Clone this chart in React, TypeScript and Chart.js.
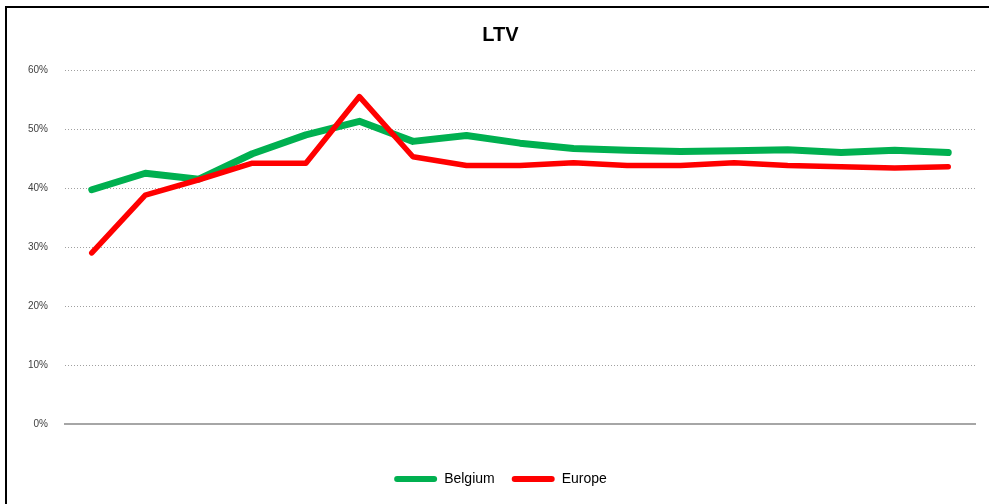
import { useEffect, useRef } from 'react';
import { Chart, registerables } from 'chart.js';

Chart.register(...registerables);

const categories = ['1', '2', '3', '4', '5', '6', '7', '8', '9', '10', '11', '12', '13', '14', '15', '16', '17'];
const belgium = [39.7, 42.5, 41.5, 45.8, 49.0, 51.3, 47.9, 48.9, 47.6, 46.7, 46.4, 46.2, 46.3, 46.5, 46.0, 46.4, 46.0];
const europe = [29.0, 38.8, 41.4, 44.2, 44.2, 55.5, 45.3, 43.8, 43.8, 44.3, 43.8, 43.8, 44.3, 43.8, 43.6, 43.4, 43.6];
const yMin = 0;
const yMax = 60;
const yStep = 10;

export default function App() {
  const ref = useRef<HTMLCanvasElement>(null);

  useEffect(() => {
    if (!ref.current) return;
    const chart = new Chart(ref.current, {
      type: 'line',
      data: {
        labels: categories,
        datasets: [
          {
            label: 'Belgium',
            data: belgium,
            borderColor: '#00b050',
            backgroundColor: '#00b050',
            borderWidth: 7,
            pointRadius: 0,
            tension: 0,
            borderCapStyle: 'round',
            borderJoinStyle: 'round',
            order: 1,
          },
          {
            label: 'Europe',
            data: europe,
            borderColor: '#ff0000',
            backgroundColor: '#ff0000',
            borderWidth: 5.5,
            pointRadius: 0,
            tension: 0,
            borderCapStyle: 'round',
            borderJoinStyle: 'round',
            order: 0,
          },
        ],
      },
      options: {
        animation: false,
        responsive: false,
        devicePixelRatio: 1,
        layout: { padding: { left: 0, right: 9, top: 0, bottom: 8 } },
        plugins: {
          tooltip: { enabled: false },
          title: {
            display: true,
            text: 'LTV',
            color: '#000000',
            font: { family: 'Liberation Sans', size: 20, weight: 'bold' },
            padding: { top: 23, bottom: 23 },
          },
          legend: {
            position: 'bottom',
            labels: {
              boxWidth: 43,
              boxHeight: 6,
              useBorderRadius: true,
              borderRadius: 3,
              padding: 17,
              color: '#000000',
              font: { family: 'Liberation Sans', size: 14 },
              sort: (a: any, b: any) => a.datasetIndex - b.datasetIndex,
              generateLabels: (c: any) =>
                Chart.defaults.plugins.legend.labels.generateLabels(c).map((l: any) => ({
                  ...l,
                  fillStyle: l.strokeStyle,
                  lineWidth: 0,
                })),
            },
          },
        },
        scales: {
          x: {
            offset: true,
            grid: { display: false },
            border: { display: true, color: '#a6a6a6', width: 2 },
            ticks: { display: false },
            afterFit: (s: any) => {
              s.height = 31;
            },
          },
          y: {
            min: yMin,
            max: yMax,
            ticks: {
              stepSize: yStep,
              padding: 17,
              color: '#404040',
              font: { family: 'Liberation Sans', size: 10 },
              callback: (v: any) => `${v}%`,
            },
            grid: {
              drawTicks: false,
              color: (ctx: any) => (ctx.tick && ctx.tick.value === 0 ? 'rgba(0,0,0,0)' : '#a0a0a0'),
              lineWidth: 1,
            },
            border: { display: false, dash: [1, 2] },
            afterFit: (s: any) => {
              s.width = 39;
            },
          },
        },
      },
    });
    return () => chart.destroy();
  }, []);

  return (
    <div style={{ position: 'fixed', left: 0, top: 0, width: 989, height: 504, background: '#ffffff', overflow: 'hidden' }}>
      <div
        style={{
          position: 'absolute',
          left: 5,
          top: 6,
          right: -10,
          bottom: -10,
          borderLeft: '2px solid #000000',
          borderTop: '2px solid #000000',
        }}
      />
      <canvas ref={ref} width={958} height={504} style={{ position: 'absolute', left: 26, top: 0, width: 958, height: 504 }} />
    </div>
  );
}
